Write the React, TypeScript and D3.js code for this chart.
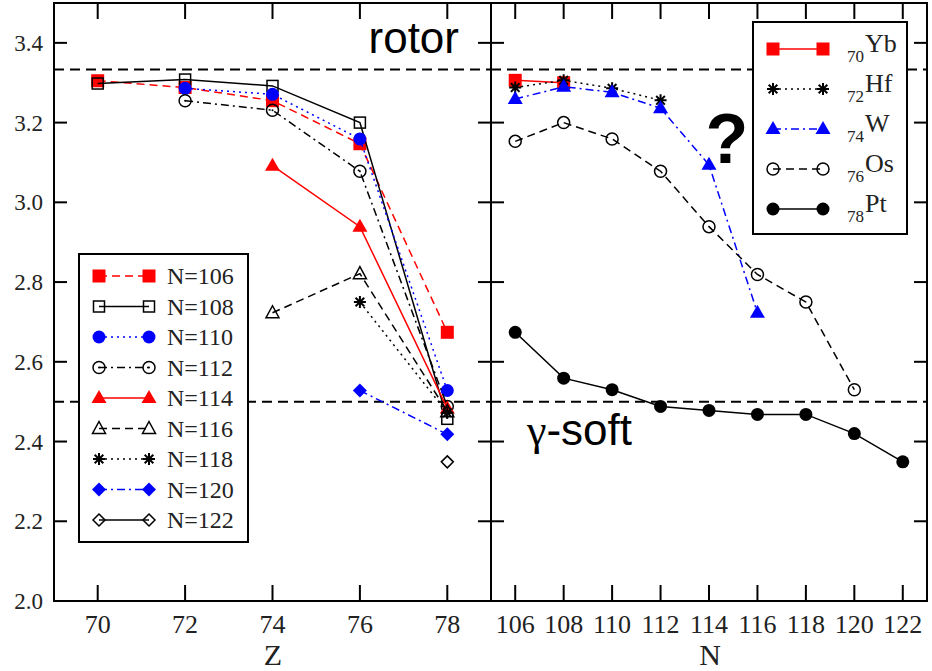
import React from "react";
import * as d3 from "d3";

// left panel: ratio vs Z for isotones
const zTicks = [70, 72, 74, 76, 78];
const n106 = [3.305, 3.288, 3.255, 3.147, 2.674];
const n108 = [3.298, 3.308, 3.292, 3.2, 2.457];
const n110 = [null, 3.286, 3.271, 3.159, 2.528];
const n112 = [null, 3.255, 3.231, 3.078, 2.488];
const n114 = [null, null, 3.092, 2.939, 2.483];
const n116 = [null, null, 2.723, 2.821, 2.475];
const n118 = [null, null, null, 2.75, 2.472];
const n120 = [null, null, null, 2.528, 2.418];
const n122 = [null, null, null, null, 2.349];

// right panel: ratio vs N for isotopes
const nTicks = [106, 108, 110, 112, 114, 116, 118, 120, 122];
const yb70 = [3.306, 3.3, null, null, null, null, null, null, null];
const hf72 = [3.288, 3.306, 3.286, 3.256, null, null, null, null, null];
const w74 = [3.259, 3.29, 3.276, 3.236, 3.094, 2.723, null, null, null];
const os76 = [3.153, 3.2, 3.159, 3.078, 2.939, 2.819, 2.75, 2.53, null];
const pt78 = [2.674, 2.559, 2.53, 2.488, 2.478, 2.468, 2.468, 2.42, 2.349];

const yTicks = [2.0, 2.2, 2.4, 2.6, 2.8, 3.0, 3.2, 3.4];
const rotorLimit = 10 / 3;
const softLimit = 2.5;

const RED = "#ff0000";
const BLUE = "#0000ff";
const BLK = "#000000";
const DASH = "8,5";
const DOT = "2,4";
const DASHDOT = "8,4,2,4";

type Mk = "sq" | "osq" | "circ" | "ocirc" | "ocircdot" | "tri" | "otri" | "star" | "dia" | "odia";

interface Series {
  label: string;
  values: (number | null)[];
  color: string;
  dash: string | null;
  marker: Mk;
  sub?: string;
}

const leftSeries: Series[] = [
  { label: "N=106", values: n106, color: RED, dash: DASH, marker: "sq" },
  { label: "N=108", values: n108, color: BLK, dash: null, marker: "osq" },
  { label: "N=110", values: n110, color: BLUE, dash: DOT, marker: "circ" },
  { label: "N=112", values: n112, color: BLK, dash: DASHDOT, marker: "ocircdot" },
  { label: "N=114", values: n114, color: RED, dash: null, marker: "tri" },
  { label: "N=116", values: n116, color: BLK, dash: DASH, marker: "otri" },
  { label: "N=118", values: n118, color: BLK, dash: DOT, marker: "star" },
  { label: "N=120", values: n120, color: BLUE, dash: DASHDOT, marker: "dia" },
  { label: "N=122", values: n122, color: BLK, dash: null, marker: "odia" },
];

const rightSeries: Series[] = [
  { label: "Yb", sub: "70", values: yb70, color: RED, dash: null, marker: "sq" },
  { label: "Hf", sub: "72", values: hf72, color: BLK, dash: DOT, marker: "star" },
  { label: "W", sub: "74", values: w74, color: BLUE, dash: DASHDOT, marker: "tri" },
  { label: "Os", sub: "76", values: os76, color: BLK, dash: DASH, marker: "ocirc" },
  { label: "Pt", sub: "78", values: pt78, color: BLK, dash: null, marker: "circ" },
];

const W = 932;
const H = 671;
const top = 3;
const bottom = 601;
const leftX0 = 54;
const midX = 491;
const rightX1 = 927;

const serif = "'Liberation Serif', 'Times New Roman', serif";
const sans = "'Liberation Sans', Arial, sans-serif";

const Marker: React.FC<{ type: Mk; x: number; y: number; color: string }> = ({ type, x, y, color }) => {
  const sw = 1.5;
  switch (type) {
    case "sq":
      return <rect x={x - 6.5} y={y - 6.5} width={13} height={13} fill={color} />;
    case "osq":
      return <rect x={x - 5.5} y={y - 5.5} width={11} height={11} fill="none" stroke={color} strokeWidth={sw} />;
    case "circ":
      return <circle cx={x} cy={y} r={6.5} fill={color} />;
    case "ocirc":
      return <circle cx={x} cy={y} r={6} fill="none" stroke={color} strokeWidth={sw} />;
    case "ocircdot":
      return (
        <g>
          <circle cx={x} cy={y} r={6} fill="none" stroke={color} strokeWidth={sw} />
          <circle cx={x} cy={y} r={1} fill={color} />
        </g>
      );
    case "tri":
      return <path d={`M${x},${y - 8}L${x + 7.5},${y + 5}L${x - 7.5},${y + 5}Z`} fill={color} />;
    case "otri":
      return (
        <path d={`M${x},${y - 7}L${x + 6.5},${y + 5}L${x - 6.5},${y + 5}Z`} fill="none" stroke={color} strokeWidth={sw} />
      );
    case "dia":
      return <path d={`M${x},${y - 7}L${x + 7},${y}L${x},${y + 7}L${x - 7},${y}Z`} fill={color} />;
    case "odia":
      return (
        <path d={`M${x},${y - 6}L${x + 6},${y}L${x},${y + 6}L${x - 6},${y}Z`} fill="none" stroke={color} strokeWidth={sw} />
      );
    case "star": {
      const r = 6;
      const d = r * 0.72;
      return (
        <path
          d={`M${x - r},${y}H${x + r}M${x},${y - r}V${y + r}M${x - d},${y - d}L${x + d},${y + d}M${x - d},${y + d}L${x + d},${y - d}`}
          stroke={color}
          strokeWidth={2}
        />
      );
    }
  }
  return null;
};

const yScale = d3.scaleLinear().domain([2.0, 3.5]).range([bottom, top]);
const xLeft = d3.scaleLinear().domain([69, 79]).range([leftX0, midX]);
const xRight = d3.scaleLinear().domain([105, 123]).range([midX, rightX1]);

const Panel: React.FC<{
  xs: d3.ScaleLinear<number, number>;
  ticks: number[];
  series: Series[];
}> = ({ xs, ticks, series }) => {
  const [x0, x1] = xs.range();
  const line = d3
    .line<[number, number | null]>()
    .defined((d) => d[1] !== null)
    .x((d) => xs(d[0]))
    .y((d) => yScale(d[1] as number));
  return (
    <g>
      {/* reference lines */}
      {[rotorLimit, softLimit].map((v) => (
        <line key={v} x1={x0} x2={x1} y1={yScale(v)} y2={yScale(v)} stroke={BLK} strokeWidth={2} strokeDasharray="10,6" />
      ))}
      {/* ticks */}
      {ticks.map((t) => (
        <g key={t}>
          <line x1={xs(t)} x2={xs(t)} y1={bottom} y2={bottom - 16} stroke={BLK} strokeWidth={2} />
          <line x1={xs(t)} x2={xs(t)} y1={top} y2={top + 16} stroke={BLK} strokeWidth={2} />
          <text x={xs(t)} y={633} textAnchor="middle" fontFamily={serif} fontSize={26} fill="#222">
            {t}
          </text>
        </g>
      ))}
      {yTicks.slice(1).map((t) => (
        <g key={t}>
          <line x1={x0} x2={x0 + 13} y1={yScale(t)} y2={yScale(t)} stroke={BLK} strokeWidth={2} />
          <line x1={x1} x2={x1 - 13} y1={yScale(t)} y2={yScale(t)} stroke={BLK} strokeWidth={2} />
        </g>
      ))}
      {/* series */}
      {series.map((s) => {
        const pts = ticks.map((t, i) => [t, s.values[i]] as [number, number | null]);
        return (
          <g key={s.label}>
            <path
              d={line(pts) || ""}
              fill="none"
              stroke={s.color}
              strokeWidth={1.5}
              strokeDasharray={s.dash || undefined}
            />
            {pts
              .filter((p) => p[1] !== null)
              .map((p) => (
                <Marker key={p[0]} type={s.marker} x={xs(p[0])} y={yScale(p[1] as number)} color={s.color} />
              ))}
          </g>
        );
      })}
      <rect x={x0} y={top} width={x1 - x0} height={bottom - top} fill="none" stroke={BLK} strokeWidth={2} />
    </g>
  );
};

const App: React.FC = () => {
  return (
    <svg
      width={W}
      height={H}
      style={{ position: "absolute", left: 0, top: 0, background: "#fff" }}
      xmlns="http://www.w3.org/2000/svg"
    >
      <rect width={W} height={H} fill="#fff" />
      <Panel xs={xLeft} ticks={zTicks} series={leftSeries} />
      <Panel xs={xRight} ticks={nTicks} series={rightSeries} />

      {/* y axis labels */}
      {yTicks.map((t) => (
        <text key={t} x={43} y={yScale(t)} dy="0.35em" textAnchor="end" fontFamily={serif} fontSize={23} fill="#222">
          {t.toFixed(1)}
        </text>
      ))}

      {/* axis titles */}
      <text x={273} y={665} textAnchor="middle" fontFamily={serif} fontSize={30} fill="#222">
        Z
      </text>
      <text x={710} y={665} textAnchor="middle" fontFamily={serif} fontSize={30} fill="#222">
        N
      </text>

      {/* annotations */}
      <text x={459} y={53} textAnchor="end" fontFamily={sans} fontSize={44} fill={BLK}>
        rotor
      </text>
      <text x={527} y={445} fontFamily={sans} fontSize={44} fill={BLK}>
        <tspan fontFamily={serif}>γ</tspan>-soft
      </text>
      <text x={727} y={163} textAnchor="middle" fontFamily={sans} fontSize={70} fontWeight="bold" fill={BLK}>
        ?
      </text>

      {/* left legend */}
      <rect x={79} y={254} width={169} height={288} fill="#fff" stroke={BLK} strokeWidth={2} />
      {leftSeries.map((s, i) => {
        const y = 276 + i * 30.5;
        return (
          <g key={s.label}>
            <line x1={99} x2={149} y1={y} y2={y} stroke={s.color} strokeWidth={1.5} strokeDasharray={s.dash || undefined} />
            <Marker type={s.marker} x={99} y={y} color={s.color} />
            <Marker type={s.marker} x={149} y={y} color={s.color} />
            <text x={167} y={y} dy="0.35em" fontFamily={serif} fontSize={24} fill="#222">
              {s.label}
            </text>
          </g>
        );
      })}

      {/* right legend */}
      <rect x={753} y={22} width={154} height={212} fill="#fff" stroke={BLK} strokeWidth={2} />
      {rightSeries.map((s, i) => {
        const y = 49 + i * 40;
        return (
          <g key={s.label}>
            <line x1={773} x2={823} y1={y} y2={y} stroke={s.color} strokeWidth={1.5} strokeDasharray={s.dash || undefined} />
            <Marker type={s.marker} x={773} y={y} color={s.color} />
            <Marker type={s.marker} x={823} y={y} color={s.color} />
            <text x={847} y={y + 13} fontFamily={serif} fontSize={17} fill="#222">
              {s.sub}
            </text>
            <text x={865} y={y + 3} fontFamily={serif} fontSize={26} fill="#222">
              {s.label}
            </text>
          </g>
        );
      })}
    </svg>
  );
};

export default App;
